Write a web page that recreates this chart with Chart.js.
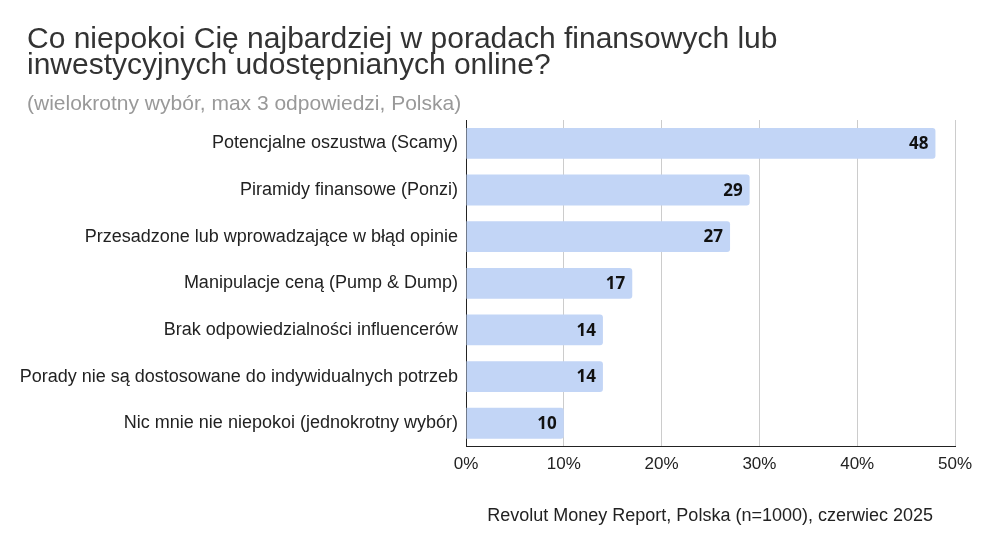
<!DOCTYPE html>
<html>
<head>
<meta charset="utf-8">
<style>
  body { margin: 0; background: #fff; }
</style>
<script src="https://cdn.jsdelivr.net/npm/chart.js@4"></script>
</head>
<body>
<canvas id="chart" width="982" height="553"></canvas>
<script>
// DATA
const categories = [
  "Potencjalne oszustwa (Scamy)",
  "Piramidy finansowe (Ponzi)",
  "Przesadzone lub wprowadzające w błąd opinie",
  "Manipulacje ceną (Pump & Dump)",
  "Brak odpowiedzialności influencerów",
  "Porady nie są dostosowane do indywidualnych potrzeb",
  "Nic mnie nie niepokoi (jednokrotny wybór)"
];
const values = [48, 29, 27, 17, 14, 14, 10];
const xTicks = [0, 10, 20, 30, 40, 50];

const titleLines = [
  "Co niepokoi Cię najbardziej w poradach finansowych lub",
  "inwestycyjnych udostępnianych online?"
];
const subtitleText = "(wielokrotny wybór, max 3 odpowiedzi, Polska)";
const sourceText = "Revolut Money Report, Polska (n=1000), czerwiec 2025";

const FONT = "'Liberation Sans', Arial, sans-serif";

// value labels inside bar ends
const valueLabels = {
  id: "valueLabels",
  afterDatasetsDraw(chart) {
    const ctx = chart.ctx;
    const meta = chart.getDatasetMeta(0);
    ctx.save();
    ctx.font = "bold 17px 'Open Sans', sans-serif";
    ctx.fillStyle = "#111";
    ctx.textAlign = "right";
    ctx.textBaseline = "middle";
    meta.data.forEach((bar, i) => {
      ctx.fillText(values[i], bar.x - 7, bar.y + 1);
    });
    ctx.restore();
  }
};

// heading + source note
const texts = {
  id: "texts",
  afterDraw(chart) {
    const ctx = chart.ctx;
    ctx.save();
    ctx.textBaseline = "alphabetic";
    ctx.textAlign = "left";
    ctx.fillStyle = "#333";
    ctx.font = "30px " + FONT;
    ctx.fillText(titleLines[0], 27, 48);
    ctx.fillText(titleLines[1], 27, 74);
    ctx.fillStyle = "#999";
    ctx.font = "21px " + FONT;
    ctx.fillText(subtitleText, 27, 110);

    ctx.font = "18px " + FONT;
    ctx.fillStyle = "#222";
    ctx.textAlign = "right";
    ctx.textBaseline = "middle";
    ctx.fillText(sourceText, 933, 516);
    ctx.restore();
  }
};

new Chart(document.getElementById("chart"), {
  type: "bar",
  data: {
    labels: categories,
    datasets: [{
      data: values,
      backgroundColor: "#c2d5f6",
      borderRadius: { topRight: 3, bottomRight: 3 },
      borderSkipped: "start",
      barPercentage: 0.66,
      categoryPercentage: 1
    }]
  },
  options: {
    indexAxis: "y",
    responsive: false,
    animation: false,
    layout: { padding: { left: 6, right: 27, top: 120, bottom: 70 } },
    plugins: {
      legend: { display: false },
      tooltip: { enabled: false }
    },
    scales: {
      x: {
        min: 0,
        max: 50,
        afterBuildTicks(scale) {
          scale.ticks = xTicks.map(v => ({ value: v }));
        },
        ticks: {
          callback: v => v + "%",
          color: "#222",
          padding: 8,
          font: { family: FONT, size: 17 }
        },
        grid: { color: "#ccc", drawTicks: false, lineWidth: 1 },
        border: { display: true, color: "#222", width: 1 }
      },
      y: {
        afterFit(scale) {
          scale.width = 466 - 6;
        },
        ticks: {
          color: "#222",
          padding: 8,
          font: { family: FONT, size: 18 }
        },
        grid: { display: false, drawTicks: false },
        border: { display: true, color: "#222", width: 1 }
      }
    }
  },
  plugins: [valueLabels, texts]
});
</script>
</body>
</html>
